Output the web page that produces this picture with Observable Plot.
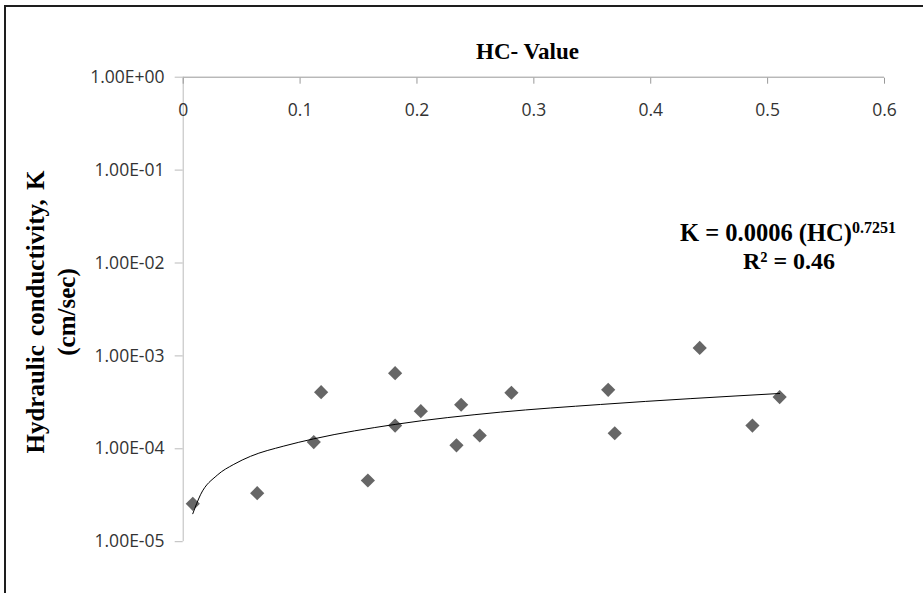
<!DOCTYPE html>
<html>
<head>
<meta charset="utf-8">
<script src="https://cdn.jsdelivr.net/npm/d3@7"></script>
<script src="https://cdn.jsdelivr.net/npm/@observablehq/plot@0.6"></script>
<style>
  html, body { margin: 0; padding: 0; background: #fff; }
  #wrap { position: relative; width: 923px; height: 593px; overflow: hidden; }
  #border { position: absolute; left: 4px; top: 5px; right: -10px; bottom: -10px;
            border-top: 2.5px solid #1e1e1e; border-left: 2.5px solid #1e1e1e; pointer-events: none; }
</style>
</head>
<body>
<div id="wrap"><div id="border"></div></div>
<script>
// ---- data ----
const xTicks = [0, 0.1, 0.2, 0.3, 0.4, 0.5, 0.6];
const xTickLabels = ["0", "0.1", "0.2", "0.3", "0.4", "0.5", "0.6"];
const yTicks = [1, 0.1, 0.01, 0.001, 0.0001, 0.00001];
const yTickLabels = ["1.00E+00", "1.00E-01", "1.00E-02", "1.00E-03", "1.00E-04", "1.00E-05"];

const hcValues = [0.0082, 0.0633, 0.1117, 0.118, 0.158, 0.1813, 0.1813, 0.2033, 0.2338,
                  0.2378, 0.2537, 0.2808, 0.3636, 0.3692, 0.4419, 0.487, 0.5103];
const kValues  = [2.56e-5, 3.33e-5, 1.18e-4, 4.07e-4, 4.56e-5, 6.51e-4, 1.78e-4, 2.54e-4, 1.09e-4,
                  2.98e-4, 1.39e-4, 4.01e-4, 4.31e-4, 1.47e-4, 1.22e-3, 1.78e-4, 3.6e-4];

// trend line (power fit)
const trendHC = [0.0082, 0.0148, 0.0291, 0.0433, 0.0576, 0.0861, 0.1117, 0.1813, 0.2714, 0.357, 0.5103];
const trendK  = [2.0e-5, 3.2e-5, 5.2e-5, 6.8e-5, 8.3e-5, 1.07e-4, 1.28e-4, 1.83e-4, 2.48e-4, 3.0e-4, 3.94e-4];

const titleText = "HC- Value";
const yTitleLines = ["Hydraulic conductivity, K", "(cm/sec)"];
const eqMain = "K = 0.0006 (HC)";
const eqExp = "0.7251";
const r2Text = "R² = 0.46";

const points = hcValues.map((hc, i) => ({hc, k: kValues[i]}));
const trend = trendHC.map((hc, i) => ({hc, k: trendK[i]}));

const chart = Plot.plot({
  width: 923,
  height: 593,
  marginLeft: 182.7,
  marginTop: 76.7,
  marginRight: 39,
  marginBottom: 51.8,
  style: {fontFamily: "'Open Sans', sans-serif", fontSize: "17.5px", color: "#333", background: "transparent", overflow: "visible"},
  x: {domain: [0, 0.6]},
  y: {type: "log", domain: [1e-5, 1]},
  marks: [
    Plot.ruleY([1], {stroke: "#999", strokeWidth: 1}),
    Plot.ruleX([0], {stroke: "#bbb", strokeWidth: 1}),
    Plot.axisX({anchor: "top", ticks: xTicks, tickSize: -6, tickFormat: () => "", stroke: "#999", label: null}),
    Plot.text(xTicks, {x: d => d, text: (d, i) => xTickLabels[i], frameAnchor: "top", dy: 26, fill: "#333"}),
    Plot.axisY({anchor: "left", ticks: yTicks, tickSize: 8, tickPadding: 10.7, stroke: "#bbb", fill: "#333",
                tickFormat: d => yTickLabels[yTicks.indexOf(d)], label: null}),
    Plot.dot(points, {x: "hc", y: "k", symbol: "diamond2", r: 6.4, fill: "#666"}),
    Plot.line(trend, {x: "hc", y: "k", curve: "monotone-x", stroke: "#000", strokeWidth: 1})
  ]
});

document.getElementById("wrap").insertBefore(chart, document.getElementById("border"));

// ---- text annotations ----
const svg = d3.select(chart);
const serif = "'Liberation Serif', 'Times New Roman', serif";

svg.append("text")
  .attr("x", 527.5).attr("y", 59)
  .attr("text-anchor", "middle")
  .attr("font-family", serif).attr("font-weight", "bold").attr("font-size", 23)
  .attr("fill", "#000")
  .text(titleText);

const yt = svg.append("g").attr("transform", "translate(0,312) rotate(-90)");
yt.append("text").attr("x", 0).attr("y", 44)
  .attr("text-anchor", "middle")
  .attr("font-family", serif).attr("font-weight", "bold").attr("font-size", 25)
  .attr("word-spacing", 3)
  .attr("fill", "#000").text(yTitleLines[0]);
yt.append("text").attr("x", 0).attr("y", 75)
  .attr("text-anchor", "middle")
  .attr("font-family", serif).attr("font-weight", "bold").attr("font-size", 25)
  .attr("fill", "#000").text(yTitleLines[1]);

const eq = svg.append("text")
  .attr("x", 788).attr("y", 241)
  .attr("text-anchor", "middle")
  .attr("font-family", serif).attr("font-weight", "bold").attr("font-size", 24.5)
  .attr("fill", "#000");
eq.append("tspan").text(eqMain);
eq.append("tspan").attr("font-size", 16).attr("dy", -8).text(eqExp);

svg.append("text")
  .attr("x", 789).attr("y", 269)
  .attr("text-anchor", "middle")
  .attr("font-family", serif).attr("font-weight", "bold").attr("font-size", 24)
  .attr("fill", "#000")
  .text(r2Text);
</script>
</body>
</html>
